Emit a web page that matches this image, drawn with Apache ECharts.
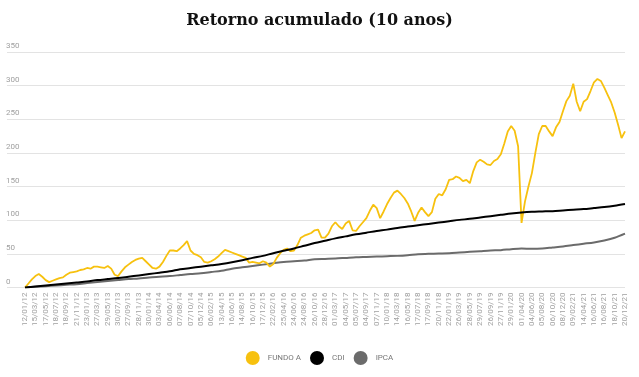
<!DOCTYPE html>
<html>
<head>
<meta charset="utf-8">
<script src="https://cdn.jsdelivr.net/npm/echarts@6/dist/echarts.min.js"></script>
<style>
  html, body { margin: 0; padding: 0; background: #fff; }
  #chart { width: 639px; height: 377px; }
</style>
</head>
<body>
<div id="chart"></div>
<script>
// tick labels (one every third point on the axis)
const dates = [
  "12/01/12", "15/03/12", "17/05/12", "18/07/12", "18/09/12", "21/11/12",
  "23/01/13", "27/03/13", "29/05/13", "30/07/13", "27/09/13", "28/11/13",
  "30/01/14", "03/04/14", "06/06/14", "07/08/14", "07/10/14", "05/12/14",
  "06/02/15", "13/04/15", "16/06/15", "14/08/15", "16/10/15", "17/12/15",
  "22/02/16", "25/04/16", "24/06/16", "24/08/16", "26/10/16", "28/12/16",
  "01/03/17", "04/05/17", "05/07/17", "04/09/17", "07/11/17",
  "10/01/18", "14/03/18", "16/05/18", "17/07/18", "17/09/18", "20/11/18",
  "22/01/19", "26/03/19", "28/05/19", "29/07/19", "26/09/19", "27/11/19",
  "29/01/20", "01/04/20", "04/06/20", "05/08/20", "06/10/20", "08/12/20",
  "09/02/21", "14/04/21", "16/06/21", "16/08/21", "18/10/21", "20/12/21"
];

// FUNDO A, three readings per label step
const fundoA = [
  0, 6, 12, 17, 20, 16, 11, 8, 10, 12, 14, 15, 19, 22, 23, 24, 26, 27, 29, 28,
  31, 31, 30, 29, 32, 28, 19, 17, 24, 30, 34, 38, 41, 43, 44, 39, 34, 29, 28, 31,
  38, 47, 55, 55, 54, 58, 63, 69, 55, 50, 48, 45, 38, 37, 39, 42, 46, 51, 56, 54,
  52, 50, 48, 46, 44, 37, 38, 37, 36, 39, 37, 31, 35, 44, 51, 56, 58, 54, 55, 63,
  74, 77, 79, 81, 85, 86, 74, 74, 80, 91, 97, 91, 87, 95, 99, 85, 84, 91, 97, 103,
  114, 123, 118, 103, 113, 124, 133, 141, 144, 139, 133, 125, 113, 99, 111, 119, 112, 106, 112, 132,
  139, 137, 146, 160, 161, 165, 163, 158, 160, 155, 173, 186, 190, 187, 183, 182, 188, 191, 198, 214,
  232, 240, 233, 210, 96, 128, 150, 170, 200, 228, 240, 240, 232, 225, 238, 246, 262, 277, 285, 303,
  276, 262, 276, 280, 292, 305, 310, 307, 297, 286, 275, 260, 242, 222, 232
];

// CDI and IPCA, one reading per label
const cdi = [
  0, 1.5, 3, 4.5, 6, 7.5, 9, 11, 12.5, 14, 16, 18, 20, 22, 24, 27, 29, 31, 33, 35,
  37.5, 40.5, 44, 47, 51, 54.5, 58, 62, 66, 69.5, 73, 76, 79, 81.5, 84, 86, 88.5, 90.5, 92.5, 94.5,
  96.5, 98.5, 100.5, 102, 104, 106, 108, 110, 111.5, 112.5, 113, 113.5, 114.5, 115.5, 116.5, 118, 119.5, 121.5, 124
];
const ipca = [
  0, 1, 2, 3, 4, 5, 6.5, 8, 9.5, 11, 12.5, 13.5, 15, 16, 17, 18.5, 20, 21, 23, 25,
  28, 30, 32, 34, 36, 38, 39, 40, 42, 42.5, 43, 44, 45, 45.5, 46, 46.5, 47, 48, 49.5, 50,
  50.5, 51, 52, 53, 54, 55, 55.5, 57, 58, 57.5, 58, 59.5, 61, 63, 65, 67, 70, 74, 80
];

const STEP = 3;
const categories = fundoA.map((_, k) => (k % STEP === 0 ? dates[k / STEP] : ""));
const spread = (arr) => fundoA.map((_, k) => (k % STEP === 0 ? arr[k / STEP] : null));

const chart = echarts.init(document.getElementById("chart"));
chart.setOption({
  animation: false,
  title: {
    text: "Retorno acumulado (10 anos)",
    left: "center",
    top: 8,
    textStyle: { fontFamily: "DejaVu Serif", fontSize: 16, fontWeight: "bold", color: "#111" },
  },
  legend: {
    bottom: 7,
    left: "center",
    icon: "circle",
    itemWidth: 14,
    itemHeight: 14,
    itemGap: 9,
    textStyle: { fontFamily: "Roboto", fontSize: 8, color: "#777", padding: [0, 0, 0, 3] },
    data: ["FUNDO A", "CDI", "IPCA"],
  },
  grid: [
    { left: 7, right: 14, top: 52, bottom: 89.5 },
    { left: 25, right: 14, top: 52, bottom: 89.5 },
  ],
  xAxis: [
    { type: "value", gridIndex: 0, show: false },
    {
      type: "category",
      gridIndex: 1,
      data: categories,
      boundaryGap: false,
      axisLine: { show: false },
      axisTick: { show: false },
      axisLabel: {
        interval: STEP - 1,
        rotate: 90,
        margin: 5,
        fontFamily: "Roboto",
        fontSize: 8,
        color: "#a0a0a0",
      },
    },
  ],
  yAxis: [
    {
      type: "value",
      gridIndex: 0,
      min: 0,
      max: 350,
      interval: 50,
      axisLine: { show: false },
      axisTick: { show: false },
      splitLine: { lineStyle: { color: "#e3e3e3", width: 1 } },
      axisLabel: {
        align: "left",
        verticalAlign: "bottom",
        margin: 1,
        padding: [0, 0, 2, 0],
        fontFamily: "Roboto",
        fontSize: 8,
        color: "#a0a0a0",
      },
    },
    { type: "value", gridIndex: 1, min: 0, max: 350, show: false },
  ],
  series: [
    {
      name: "FUNDO A",
      type: "line",
      xAxisIndex: 1,
      yAxisIndex: 1,
      data: fundoA,
      showSymbol: false,
      lineStyle: { color: "#f7c10f", width: 1.8 },
      itemStyle: { color: "#f7c10f" },
      z: 3,
    },
    {
      name: "CDI",
      type: "line",
      xAxisIndex: 1,
      yAxisIndex: 1,
      data: spread(cdi),
      connectNulls: true,
      showSymbol: false,
      smooth: 0.3,
      lineStyle: { color: "#000", width: 2 },
      itemStyle: { color: "#000" },
      z: 4,
    },
    {
      name: "IPCA",
      type: "line",
      xAxisIndex: 1,
      yAxisIndex: 1,
      data: spread(ipca),
      connectNulls: true,
      showSymbol: false,
      smooth: 0.3,
      lineStyle: { color: "#6b6b6b", width: 2 },
      itemStyle: { color: "#6b6b6b" },
      z: 2,
    },
  ],
});
</script>
</body>
</html>
